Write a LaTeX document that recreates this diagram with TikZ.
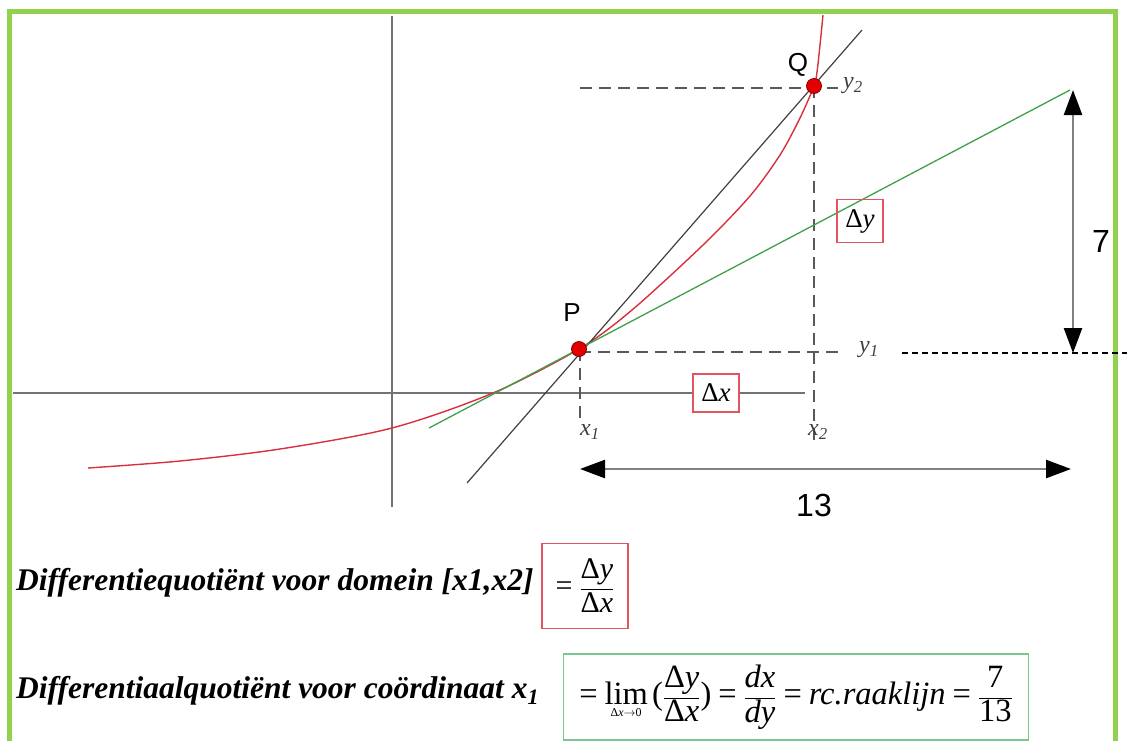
\documentclass[tikz,border=0pt]{standalone}
\usepackage{fontspec}
\setmainfont{Liberation Serif}
\newfontfamily\arialf{Liberation Sans}
\usetikzlibrary{arrows.meta}
\definecolor{frameg}{HTML}{92D050}
\definecolor{curvered}{HTML}{D83040}
\definecolor{tangreen}{HTML}{3FA04A}
\definecolor{boxred}{HTML}{E05560}
\definecolor{boxgreen}{HTML}{78C890}
\newcommand{\vi}[1]{\textit{#1}}
\newcommand{\Dl}{\textup{Δ}}
\newcommand{\eqs}{\mathrel{\textup{=}}}
\begin{document}
\begin{tikzpicture}[x=1pt,y=-1pt,
  ax/.style={draw=black!55,line width=2.5pt},
  dsh/.style={draw=black!65,line width=2pt,dash pattern=on 12pt off 7pt},
  dot/.style={circle,fill=red!90!black,draw=red!50!black,line width=0.8pt,minimum size=15pt,inner sep=0pt},
  lbl/.style={font=\fontsize{26}{30}\arialf},
  sublbl/.style={font=\fontsize{24}{28}\selectfont\itshape,text=black!75},
  dbox/.style={draw=boxred,line width=1.5pt,inner sep=2pt,font=\fontsize{27}{30}\selectfont},
  dimarrow/.style={draw=black!50,line width=2.5pt,{Triangle[length=25pt,width=18pt,black]}-{Triangle[length=25pt,width=18pt,black]}},
  big/.style={font=\fontsize{31.5}{36}\selectfont\bfseries\itshape},
  frm/.style={font=\fontsize{32.5}{36}\selectfont}
]
\useasboundingbox (0,0) rectangle (1127,740);
% frame
\draw[frameg,line width=5pt] (9,760) -- (9,11) -- (1115,11) -- (1115,760);
% coordinates
\coordinate (yt) at (392,16);
\coordinate (yb) at (392,507);
\coordinate (xl) at (13,393);
\coordinate (xr) at (805,393);
\coordinate (S1) at (467,483);
\coordinate (S2) at (862,30);
\coordinate (T1) at (429,428);
\coordinate (T2) at (1070,90);
\coordinate (y2s) at (580,88);
\coordinate (y2e) at (838,88);
\coordinate (y1s) at (579,352);
\coordinate (y1e) at (838,352);
\coordinate (x1s) at (580,349);
\coordinate (x1e) at (580,425);
\coordinate (x2s) at (814,86);
\coordinate (x2e) at (814,445);
\coordinate (d1) at (902,353);
\coordinate (d2) at (1127,353);
\coordinate (a7t) at (1073,90);
\coordinate (a7b) at (1073,353);
\coordinate (a13l) at (580,469);
\coordinate (a13r) at (1071,469);
% axes
\draw[ax] (yt) -- (yb);
\draw[ax] (xl) -- (xr);
% dashed helpers
\draw[dsh] (y2s) -- (y2e);
\draw[dsh] (x2s) -- (x2e);
\draw[dsh] (y1s) -- (y1e);
\draw[dsh] (x1s) -- (x1e);
\draw[black,line width=1.3pt,dash pattern=on 6pt off 4pt] (d1) -- (d2);
% curve
\draw[curvered,line width=1.4pt] plot[smooth,tension=0.5] coordinates {(88,468) (180,461) (280,449) (392,428) (493,393) (579,349) (632,310) (703,245) (750,196) (780,155) (800,118) (814,86) (817,72) (820,45) (823,15)};
% secant and tangent
\draw[black!75,line width=1.2pt] (S1) -- (S2);
\draw[tangreen,line width=1.3pt] (T1) -- (T2);
% points
\node[dot] (P) at (579,349) {};
\node[dot] (Q) at (814,86) {};
% labels
\node[lbl] (Pl) at (572,313) {P};
\node[lbl] (Ql) at (798,65) {Q};
\node[sublbl] (y2l) at (853,86) {y\textsubscript{2}};
\node[sublbl] (y1l) at (869,350) {y\textsubscript{1}};
\node[sublbl] (x1l) at (590,432) {x\textsubscript{1}};
\node[sublbl] (x2l) at (818,432) {x\textsubscript{2}};
\node[dbox,fill=white,minimum width=46pt,minimum height=38pt] (dx) at (716,393) {\Dl\vi{x}};
\node[dbox,minimum width=46pt,minimum height=43pt] (dy) at (860,221) {\Dl\vi{y}};
% dimension arrows
\draw[dimarrow] (a7t) -- (a7b);
\draw[dimarrow] (a13l) -- (a13r);
\node[font=\fontsize{32}{36}\arialf] (n7) at (1101,241) {7};
\node[font=\fontsize{32}{36}\arialf] (n13) at (814,505) {13};
% bottom texts
\node[big,anchor=west,inner sep=0pt] (t1) at (16,583) {Differentiequotiënt voor domein [x1,x2]};
\node[draw=boxred,line width=1.5pt,minimum width=86pt,minimum height=85pt,inner sep=2pt,font=\fontsize{30}{36}\selectfont] (f1) at (585,586)
  {$\displaystyle\eqs\frac{\Dl\vi{y}}{\Dl\vi{x}}$};
\node[big,anchor=west,inner sep=0pt] (t2) at (16,691) {Differentiaalquotiënt voor coördinaat x\textsubscript{1}};
\node[draw=boxgreen,line width=1.5pt,minimum width=465pt,minimum height=86pt,inner sep=1pt,frm] (f2) at (796,697)
  {$\displaystyle\eqs\mathop{\textup{lim}}\limits_{\raisebox{-6pt}{\fontsize{12}{12}\selectfont\Dl\vi{x}$\to$0}}\textup{(}\frac{\Dl\vi{y}}{\Dl\vi{x}}\textup{)}\eqs\frac{\vi{dx}}{\vi{dy}}\eqs\vi{rc.raaklijn}\eqs\frac{\textup{7}}{\textup{13}}$};
\end{tikzpicture}
\end{document}
